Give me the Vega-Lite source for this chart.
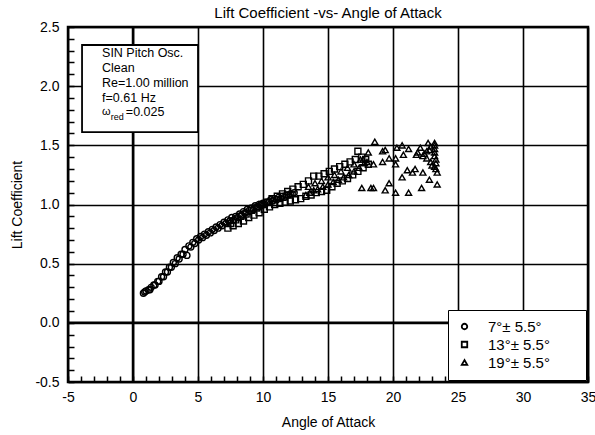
{
  "$schema": "https://vega.github.io/schema/vega-lite/v6.json",
  "width": 520,
  "height": 355,
  "autosize": {"type": "none"},
  "padding": {"left": 68, "top": 27, "right": 7, "bottom": 53},
  "title": {"text": "Lift Coefficient -vs- Angle of Attack", "fontSize": 15, "fontWeight": "normal", "color": "black", "offset": -1, "anchor": "middle"},
  "config": {
    "font": "Liberation Sans",
    "view": {"stroke": "black", "strokeWidth": 2.5}
  },
  "datasets": {
    "pts": [
      {"s":"7","a":0.8,"cl":0.25},{"s":"7","a":1.0,"cl":0.27},{"s":"7","a":1.2,"cl":0.28},{"s":"7","a":1.4,"cl":0.30},{"s":"7","a":1.6,"cl":0.32},{"s":"7","a":1.9,"cl":0.35},{"s":"7","a":2.2,"cl":0.39},{"s":"7","a":2.5,"cl":0.43},{"s":"7","a":2.8,"cl":0.47},{"s":"7","a":3.1,"cl":0.51},{"s":"7","a":3.4,"cl":0.55},{"s":"7","a":3.7,"cl":0.58},{"s":"7","a":4.0,"cl":0.62},{"s":"7","a":4.3,"cl":0.65},{"s":"7","a":4.6,"cl":0.68},{"s":"7","a":4.9,"cl":0.71},{"s":"7","a":5.2,"cl":0.73},{"s":"7","a":5.5,"cl":0.75},{"s":"7","a":5.8,"cl":0.77},{"s":"7","a":6.1,"cl":0.79},{"s":"7","a":6.4,"cl":0.81},{"s":"7","a":6.7,"cl":0.83},{"s":"7","a":7.0,"cl":0.85},{"s":"7","a":7.3,"cl":0.87},{"s":"7","a":7.6,"cl":0.89},{"s":"7","a":7.9,"cl":0.90},{"s":"7","a":8.2,"cl":0.92},{"s":"7","a":8.5,"cl":0.94},{"s":"7","a":8.8,"cl":0.96},{"s":"7","a":9.1,"cl":0.97},{"s":"7","a":9.4,"cl":0.99},{"s":"7","a":9.7,"cl":1.00},{"s":"7","a":10.0,"cl":1.01},{"s":"7","a":10.3,"cl":1.02},{"s":"7","a":10.6,"cl":1.04},{"s":"7","a":10.9,"cl":1.05},{"s":"7","a":11.2,"cl":1.06},{"s":"7","a":11.5,"cl":1.07},{"s":"7","a":11.8,"cl":1.08},{"s":"7","a":12.1,"cl":1.09},{"s":"7","a":12.4,"cl":1.10},
      {"s":"7","a":0.9,"cl":0.26},{"s":"7","a":1.3,"cl":0.28},{"s":"7","a":1.7,"cl":0.32},{"s":"7","a":2.0,"cl":0.35},{"s":"7","a":2.35,"cl":0.39},{"s":"7","a":2.65,"cl":0.43},{"s":"7","a":2.95,"cl":0.47},{"s":"7","a":3.25,"cl":0.50},{"s":"7","a":3.55,"cl":0.54},{"s":"7","a":3.85,"cl":0.58},{"s":"7","a":4.15,"cl":0.57},{"s":"7","a":4.45,"cl":0.64},{"s":"7","a":4.75,"cl":0.67},{"s":"7","a":5.05,"cl":0.70},{"s":"7","a":5.35,"cl":0.72},{"s":"7","a":5.65,"cl":0.74},{"s":"7","a":5.95,"cl":0.76},{"s":"7","a":6.25,"cl":0.78},{"s":"7","a":6.55,"cl":0.80},{"s":"7","a":6.85,"cl":0.82},{"s":"7","a":7.15,"cl":0.84},{"s":"7","a":7.45,"cl":0.86},{"s":"7","a":7.75,"cl":0.87},{"s":"7","a":8.05,"cl":0.89},{"s":"7","a":8.35,"cl":0.91},{"s":"7","a":8.65,"cl":0.93},{"s":"7","a":8.95,"cl":0.95},{"s":"7","a":9.25,"cl":0.96},{"s":"7","a":9.55,"cl":0.98},{"s":"7","a":9.85,"cl":0.99},{"s":"7","a":10.15,"cl":1.00},{"s":"7","a":10.45,"cl":1.02},{"s":"7","a":10.75,"cl":1.03},{"s":"7","a":11.05,"cl":1.04},{"s":"7","a":11.35,"cl":1.05},{"s":"7","a":11.65,"cl":1.06},{"s":"7","a":11.95,"cl":1.08},{"s":"7","a":12.25,"cl":1.09},
      {"s":"13","a":7.3,"cl":0.80},{"s":"13","a":7.7,"cl":0.82},{"s":"13","a":8.1,"cl":0.84},{"s":"13","a":8.5,"cl":0.86},{"s":"13","a":8.9,"cl":0.89},{"s":"13","a":9.3,"cl":0.91},{"s":"13","a":9.7,"cl":0.93},{"s":"13","a":10.1,"cl":0.96},{"s":"13","a":10.5,"cl":0.98},{"s":"13","a":10.9,"cl":1.00},{"s":"13","a":11.3,"cl":1.01},{"s":"13","a":11.7,"cl":1.02},{"s":"13","a":12.1,"cl":1.03},{"s":"13","a":12.5,"cl":1.04},{"s":"13","a":12.9,"cl":1.05},{"s":"13","a":13.3,"cl":1.07},{"s":"13","a":13.7,"cl":1.08},{"s":"13","a":14.1,"cl":1.10},{"s":"13","a":14.5,"cl":1.11},{"s":"13","a":14.9,"cl":1.12},{"s":"13","a":15.3,"cl":1.15},{"s":"13","a":15.7,"cl":1.18},{"s":"13","a":16.1,"cl":1.20},{"s":"13","a":16.5,"cl":1.22},{"s":"13","a":16.9,"cl":1.25},{"s":"13","a":17.3,"cl":1.28},{"s":"13","a":17.7,"cl":1.31},{"s":"13","a":18.1,"cl":1.34},
      {"s":"13","a":7.5,"cl":0.84},{"s":"13","a":7.9,"cl":0.87},{"s":"13","a":8.3,"cl":0.90},{"s":"13","a":8.7,"cl":0.92},{"s":"13","a":9.1,"cl":0.95},{"s":"13","a":9.5,"cl":0.97},{"s":"13","a":9.9,"cl":1.00},{"s":"13","a":10.3,"cl":1.02},{"s":"13","a":10.7,"cl":1.05},{"s":"13","a":11.1,"cl":1.07},{"s":"13","a":11.5,"cl":1.09},{"s":"13","a":11.9,"cl":1.11},{"s":"13","a":12.3,"cl":1.13},{"s":"13","a":12.7,"cl":1.15},{"s":"13","a":13.1,"cl":1.17},{"s":"13","a":13.5,"cl":1.20},{"s":"13","a":13.9,"cl":1.24},{"s":"13","a":14.3,"cl":1.24},{"s":"13","a":14.7,"cl":1.26},{"s":"13","a":15.1,"cl":1.28},{"s":"13","a":15.5,"cl":1.30},{"s":"13","a":15.9,"cl":1.32},{"s":"13","a":16.3,"cl":1.34},{"s":"13","a":16.7,"cl":1.36},{"s":"13","a":17.1,"cl":1.38},{"s":"13","a":17.3,"cl":1.45},{"s":"13","a":17.6,"cl":1.40},{"s":"13","a":17.9,"cl":1.38},
      {"s":"19","a":13.3,"cl":1.08},{"s":"19","a":13.6,"cl":1.10},{"s":"19","a":13.9,"cl":1.12},{"s":"19","a":14.2,"cl":1.13},{"s":"19","a":14.6,"cl":1.15},{"s":"19","a":15.0,"cl":1.17},{"s":"19","a":15.4,"cl":1.19},{"s":"19","a":15.8,"cl":1.21},{"s":"19","a":16.2,"cl":1.23},{"s":"19","a":16.6,"cl":1.25},{"s":"19","a":17.0,"cl":1.28},{"s":"19","a":17.4,"cl":1.31},{"s":"19","a":17.8,"cl":1.35},
      {"s":"19","a":13.5,"cl":1.15},{"s":"19","a":14.0,"cl":1.18},{"s":"19","a":14.5,"cl":1.20},{"s":"19","a":15.0,"cl":1.23},{"s":"19","a":15.5,"cl":1.25},{"s":"19","a":16.0,"cl":1.28},{"s":"19","a":16.5,"cl":1.31},{"s":"19","a":17.0,"cl":1.34},{"s":"19","a":17.5,"cl":1.38},
      {"s":"19","a":18.6,"cl":1.53},{"s":"19","a":18.1,"cl":1.44},{"s":"19","a":19.2,"cl":1.45},{"s":"19","a":19.4,"cl":1.46},{"s":"19","a":18.5,"cl":1.34},{"s":"19","a":19.2,"cl":1.36},{"s":"19","a":19.7,"cl":1.39},{"s":"19","a":20.2,"cl":1.39},{"s":"19","a":20.2,"cl":1.34},{"s":"19","a":20.7,"cl":1.50},{"s":"19","a":20.3,"cl":1.48},{"s":"19","a":21.2,"cl":1.47},{"s":"19","a":20.8,"cl":1.42},{"s":"19","a":22.1,"cl":1.48},{"s":"19","a":21.9,"cl":1.44},{"s":"19","a":22.4,"cl":1.43},{"s":"19","a":22.7,"cl":1.52},{"s":"19","a":23.2,"cl":1.52},{"s":"19","a":21.1,"cl":1.29},{"s":"19","a":21.7,"cl":1.30},{"s":"19","a":21.5,"cl":1.27},{"s":"19","a":20.7,"cl":1.23},{"s":"19","a":22.3,"cl":1.27},{"s":"19","a":22.8,"cl":1.21},{"s":"19","a":23.4,"cl":1.27},{"s":"19","a":23.4,"cl":1.17},{"s":"19","a":22.2,"cl":1.14},{"s":"19","a":21.2,"cl":1.10},{"s":"19","a":20.2,"cl":1.10},{"s":"19","a":19.7,"cl":1.18},{"s":"19","a":19.4,"cl":1.12},{"s":"19","a":18.5,"cl":1.14},{"s":"19","a":18.3,"cl":1.14},{"s":"19","a":17.6,"cl":1.14},{"s":"19","a":17.7,"cl":1.38},{"s":"19","a":18.0,"cl":1.36},{"s":"19","a":23.2,"cl":1.50},{"s":"19","a":23.2,"cl":1.47},{"s":"19","a":23.2,"cl":1.44},{"s":"19","a":23.2,"cl":1.41},{"s":"19","a":23.3,"cl":1.38},{"s":"19","a":23.3,"cl":1.35},{"s":"19","a":23.2,"cl":1.32},{"s":"19","a":23.3,"cl":1.30},{"s":"19","a":22.9,"cl":1.49},{"s":"19","a":22.8,"cl":1.46},{"s":"19","a":22.6,"cl":1.45},{"s":"19","a":22.3,"cl":1.41},{"s":"19","a":22.6,"cl":1.39},{"s":"19","a":22.9,"cl":1.36},{"s":"19","a":23.0,"cl":1.33},{"s":"19","a":21.8,"cl":1.42}
    ],
    "zx": [{"v": 0}],
    "box": [{"x1": -3.92, "x2": 5.0, "y1": 2.348, "y2": 1.612}],
    "txt": [
      {"x": -2.38, "y": 2.28, "t": "SIN Pitch Osc."},
      {"x": -2.38, "y": 2.153, "t": "Clean"},
      {"x": -2.38, "y": 2.027, "t": "Re=1.00 million"},
      {"x": -2.38, "y": 1.9, "t": "f=0.61 Hz"},
      {"x": -0.55, "y": 1.782, "t": "=0.025"}
    ],
    "omega": [{"x": -2.38, "y": 1.782, "t": "ω"}],
    "sub": [{"x": -1.72, "y": 1.739, "t": "red"}]
  },
  "layer": [
    {
      "data": {"name": "zx"},
      "mark": {"type": "rule", "color": "black", "strokeWidth": 2.5},
      "encoding": {
        "x": {"field": "v", "type": "quantitative", "scale": {"domain": [-5, 35], "nice": false, "zero": false}, "axis": {
          "values": [-5,-4,-3,-2,-1,0,1,2,3,4,5,6,7,8,9,10,11,12,13,14,15,16,17,18,19,20,21,22,23,24,25,26,27,28,29,30,31,32,33,34,35],
          "tickCount": 1000,
          "labelExpr": "datum.value % 5 === 0 ? ('' + datum.value) : ''",
          "grid": true,
          "gridColor": "black",
          "gridWidth": 1.6,
          "gridOpacity": {"condition": {"test": "datum.value % 5 === 0", "value": 1}, "value": 0},
          "domain": false,
          "ticks": true,
          "tickSize": -6,
          "tickColor": "black",
          "tickWidth": 1.5,
          "tickOpacity": 1,
          "labelFontSize": 14,
          "labelColor": "black",
          "labelFlush": false,
          "labelOverlap": false,
          "labelPadding": 14,
          "title": "Angle of Attack",
          "titleFontSize": 14,
          "titleFontWeight": "normal",
          "titleColor": "black",
          "titlePadding": 11
        }}
      }
    },
    {
      "data": {"name": "zx"},
      "mark": {"type": "rule", "color": "black", "strokeWidth": 2.5},
      "encoding": {
        "y": {"field": "v", "type": "quantitative", "scale": {"domain": [-0.5, 2.5], "nice": false, "zero": false}, "axis": {
          "values": [-0.5,-0.4,-0.3,-0.2,-0.1,0,0.1,0.2,0.3,0.4,0.5,0.6,0.7,0.8,0.9,1.0,1.1,1.2,1.3,1.4,1.5,1.6,1.7,1.8,1.9,2.0,2.1,2.2,2.3,2.4,2.5],
          "tickCount": 1000,
          "labelExpr": "abs(round(datum.value * 10)) % 5 === 0 ? replace(format(datum.value, '.1f'), '\u2212', '-') : ''",
          "grid": true,
          "gridColor": "black",
          "gridWidth": 1.6,
          "gridOpacity": {"condition": {"test": "abs(round(datum.value * 10)) % 5 === 0", "value": 1}, "value": 0},
          "domain": false,
          "ticks": true,
          "tickSize": -6,
          "tickColor": "black",
          "tickWidth": 1.5,
          "tickOpacity": 1,
          "labelFontSize": 14,
          "labelColor": "black",
          "labelFlush": false,
          "labelOverlap": false,
          "labelPadding": 15,
          "title": "Lift Coefficient",
          "titleFontSize": 14,
          "titleFontWeight": "normal",
          "titleColor": "black",
          "titlePadding": 10
        }}
      }
    },
    {
      "data": {"name": "box"},
      "mark": {"type": "rect", "fill": "white", "stroke": "black", "strokeWidth": 1.8},
      "encoding": {
        "x": {"field": "x1", "type": "quantitative", "scale": {"domain": [-5, 35], "nice": false, "zero": false}},
        "x2": {"field": "x2"},
        "y": {"field": "y1", "type": "quantitative", "scale": {"domain": [-0.5, 2.5], "nice": false, "zero": false}},
        "y2": {"field": "y2"}
      }
    },
    {
      "data": {"name": "txt"},
      "mark": {"type": "text", "align": "left", "baseline": "middle", "fontSize": 12.5, "color": "black"},
      "encoding": {
        "x": {"field": "x", "type": "quantitative", "scale": {"domain": [-5, 35], "nice": false, "zero": false}},
        "y": {"field": "y", "type": "quantitative", "scale": {"domain": [-0.5, 2.5], "nice": false, "zero": false}},
        "text": {"field": "t"}
      }
    },
    {
      "data": {"name": "omega"},
      "mark": {"type": "text", "align": "left", "baseline": "middle", "fontSize": 11, "color": "black"},
      "encoding": {
        "x": {"field": "x", "type": "quantitative", "scale": {"domain": [-5, 35], "nice": false, "zero": false}},
        "y": {"field": "y", "type": "quantitative", "scale": {"domain": [-0.5, 2.5], "nice": false, "zero": false}},
        "text": {"field": "t"}
      }
    },
    {
      "data": {"name": "sub"},
      "mark": {"type": "text", "align": "left", "baseline": "middle", "fontSize": 9, "color": "black"},
      "encoding": {
        "x": {"field": "x", "type": "quantitative", "scale": {"domain": [-5, 35], "nice": false, "zero": false}},
        "y": {"field": "y", "type": "quantitative", "scale": {"domain": [-0.5, 2.5], "nice": false, "zero": false}},
        "text": {"field": "t"}
      }
    },
    {
      "data": {"name": "pts"},
      "mark": {"type": "point", "filled": false, "color": "black", "strokeWidth": 1.4, "size": 36, "opacity": 1},
      "encoding": {
        "x": {"field": "a", "type": "quantitative", "scale": {"domain": [-5, 35], "nice": false, "zero": false}},
        "y": {"field": "cl", "type": "quantitative", "scale": {"domain": [-0.5, 2.5], "nice": false, "zero": false}},
        "shape": {
          "field": "s", "type": "nominal",
          "scale": {"domain": ["7", "13", "19"], "range": ["circle", "square", "triangle-up"]},
          "legend": {
            "title": "xxx",
            "titleOrient": "right",
            "titleOpacity": 0,
            "titleFontSize": 14,
            "titlePadding": 3,
            "orient": "bottom-right",
            "offset": 2,
            "fillColor": "white",
            "strokeColor": "black",
            "padding": 9,
            "symbolOffset": 0,
            "labelOffset": 16,
            "labelFontSize": 15,
            "labelColor": "black",
            "rowPadding": 2,
            "symbolSize": 30,
            "symbolStrokeWidth": 1.8,
            "symbolStrokeColor": "black",
            "symbolFillColor": "transparent",
            "labelExpr": "datum.label + '°± 5.5°'",
            "encode": {"legend": {"update": {"strokeWidth": {"value": 1.8}}}}
          }
        }
      }
    }
  ]
}
